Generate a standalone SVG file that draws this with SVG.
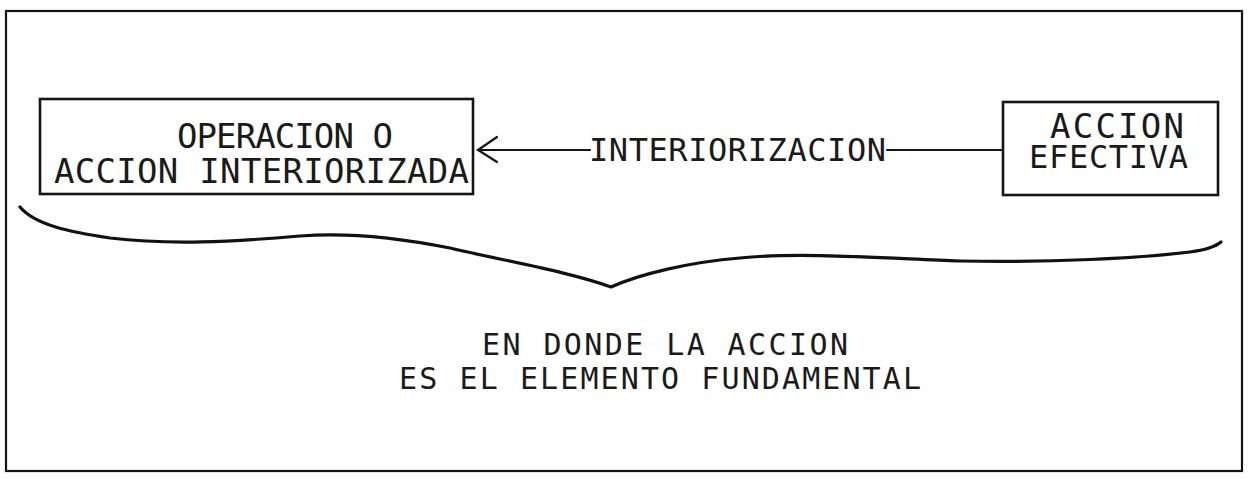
<svg xmlns="http://www.w3.org/2000/svg" width="1250" height="478" viewBox="0 0 1250 478">
  <style>
    .box { fill: none; stroke: #141414; stroke-width: 2.6; }
    .frame { fill: none; stroke: #141414; stroke-width: 2.2; }
    .line { fill: none; stroke: #141414; stroke-width: 2.2; stroke-linecap: round; }
    .brace { fill: none; stroke: #111; stroke-width: 3.2; stroke-linecap: round; stroke-linejoin: round; }
    .t { font-family: "DejaVu Sans Mono", "Liberation Mono", monospace; fill: #1a1a1a; }
  </style>
  <rect width="1250" height="478" fill="#ffffff"/>
  <g id="frame">
    <rect class="frame" x="6" y="11" width="1236" height="460"/>
  </g>
  <g id="node-operacion">
    <rect class="box" x="40" y="99" width="433" height="95"/>
    <text class="t" x="177" y="148" font-size="34" textLength="216" lengthAdjust="spacing">OPERACION O</text>
    <text class="t" x="54" y="183" font-size="34" textLength="415" lengthAdjust="spacing">ACCION INTERIORIZADA</text>
  </g>
  <g id="node-accion">
    <rect class="box" x="1003" y="102" width="215" height="93"/>
    <text class="t" x="1050" y="138" font-size="34" textLength="134" lengthAdjust="spacing">ACCION</text>
    <text class="t" x="1029" y="168" font-size="32" textLength="159" lengthAdjust="spacing">EFECTIVA</text>
  </g>
  <g id="connectors">
    <line class="line" x1="1003" y1="150" x2="887" y2="150"/>
    <line class="line" x1="590" y1="150" x2="478" y2="150"/>
    <polyline class="line" points="497,137 478,150 497,162"/>
    <text class="t" x="589" y="161" font-size="32" textLength="297" lengthAdjust="spacing">INTERIORIZACION</text>
  </g>
  <g id="brace">
    <path class="brace" d="M20,207 C35,225 70,232 110,238 C170,245 230,242 300,236 C350,232 400,238 450,248 C510,262 570,272 611,287 C640,274 690,262 740,258 C800,252 880,258 960,261 C1050,263 1140,258 1190,252 C1205,250 1215,247 1221,242"/>
  </g>
  <g id="note">
    <text class="t" x="482" y="355" font-size="30" textLength="366" lengthAdjust="spacing">EN DONDE LA ACCION</text>
    <text class="t" x="399" y="389" font-size="30" textLength="522" lengthAdjust="spacing">ES EL ELEMENTO FUNDAMENTAL</text>
  </g>
</svg>
